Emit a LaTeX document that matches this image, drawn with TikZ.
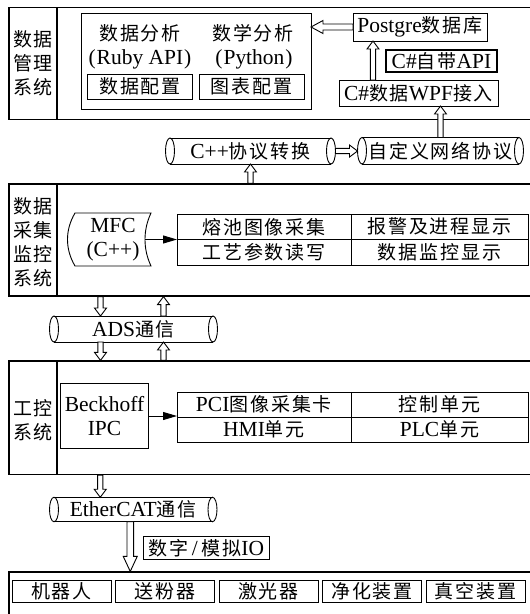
\documentclass[tikz,border=0pt]{standalone}
\usepackage{fontspec}
\setmainfont{Liberation Serif}[Scale=1.13]
\newfontfamily\cjk[LetterSpace=10]{Noto Sans CJK SC}
\newcommand{\zh}[1]{{\cjk #1}}
\usetikzlibrary{calc,positioning,arrows.meta}

\tikzset{
  box/.style={draw, line width=0.9pt, inner sep=1pt, outer sep=0pt},
  sect/.style={draw, line width=1.2pt, inner sep=0pt, minimum width=536pt},
  cell/.style={box, minimum height=25.5pt},
  devbox/.style={box, minimum width=99pt, minimum height=22pt},
  pipe/.style={inner sep=0pt, outer sep=0pt},
  solidarr/.style={-{Triangle[length=14pt,width=8pt]}, line width=0.9pt},
  tipw/.store in=\tipw, tipl/.store in=\tipl, shaftw/.store in=\shaftw,
  tipw=6pt, tipl=8pt, shaftw=2.6pt,
  hollow/.style={draw, line width=0.9pt, fill=white, to path={
    ($(\tikztostart)!\shaftw!90:(\tikztotarget)$)
    -- ($($(\tikztotarget)!\tipl!(\tikztostart)$)!\shaftw!90:(\tikztotarget)$)
    -- ($($(\tikztotarget)!\tipl!(\tikztostart)$)!\tipw!90:(\tikztotarget)$)
    -- (\tikztotarget)
    -- ($($(\tikztotarget)!\tipl!(\tikztostart)$)!\tipw!-90:(\tikztotarget)$)
    -- ($($(\tikztotarget)!\tipl!(\tikztostart)$)!\shaftw!-90:(\tikztotarget)$)
    -- ($(\tikztostart)!\shaftw!-90:(\tikztotarget)$)
    -- cycle \tikztonodes}}
}

\begin{document}
\begin{tikzpicture}[x=1pt,y=-1pt,font=\fontsize{19}{24}\selectfont]
\useasboundingbox (0,0) rectangle (530,614);
\clip (0,0) rectangle (530,614);

\node[sect, minimum height=112pt] (mgmt) at (277,63.5) {};
\node[sect, minimum height=112pt] (acq) at (277,240) {};
\node[sect, minimum height=113.5pt] (ctrl) at (277,417.75) {};
\node[sect, minimum height=68pt] (dev) at (277,606) {};
\draw[line width=1.2pt] (57,7.5) -- (57,119.5) (57,184) -- (57,296) (57,361) -- (57,474.5);
\node[align=center] (mgmtlbl) at (33,63.5) {\zh{数据}\\\zh{管理}\\\zh{系统}};
\node[align=center] (acqlbl) at (33,242) {\zh{数据}\\\zh{采集}\\\zh{监控}\\\zh{系统}};
\node[align=center] (ctrllbl) at (33,420) {\zh{工控}\\\zh{系统}};

\node[box, minimum width=230pt, minimum height=96pt] (ana) at (196,61) {};
\node (rubyhd) at (140,33) {\zh{数据分析}};
\node (pyhd) at (253,33) {\zh{数学分析}};
\node (ruby) at (140,59) {(\kern1pt Ruby API\kern1pt)};
\node (py) at (254,59) {(\kern1pt Python\kern1pt)};
\node[box, minimum width=105pt, minimum height=25pt] (dcfg) at (140,86.5) {\zh{数据配置}};
\node[box, minimum width=105pt, minimum height=25pt] (ccfg) at (251.5,86.5) {\zh{图表配置}};
\node[box, minimum width=134pt, minimum height=28pt] (pg) at (420,27) {Postgre\zh{数据库}};
\node[box, line width=1.6pt, minimum width=111pt, minimum height=22pt] (capi) at (441.5,61) {C\#\zh{自带}API};
\node[box, minimum width=159pt, minimum height=26pt] (wpf) at (418.5,93) {C\#\zh{数据}WPF\zh{接入}};

\node[pipe, minimum width=161pt, minimum height=26pt] (cpp) at (250.5,151) {C++\zh{协议转换}};
\node[pipe, minimum width=157pt, minimum height=26.5pt] (net) at (440.5,150.75) {\zh{自定义网络协议}};
\node[pipe, minimum width=159pt, minimum height=26pt] (ads) at (133.5,329) {ADS\zh{通信}};
\node[pipe, minimum width=158.5pt, minimum height=24.5pt] (ecat) at (133.25,509.5) {EtherCAT\zh{通信}};
\foreach \p/\r in {cpp/13pt,net/13.25pt,ads/13pt,ecat/12.25pt}{
  \draw[line width=0.9pt] (\p.north west) -- (\p.north east) (\p.south west) -- (\p.south east);
  \draw[line width=0.9pt] (\p.west) ellipse [x radius=4.5pt, y radius=\r] (\p.east) ellipse [x radius=4.5pt, y radius=\r];
}

\node[pipe, align=center, minimum width=76pt, minimum height=53pt] (mfc) at (113,239.5) {MFC\\(C++)};
\draw[line width=0.9pt] (mfc.north west) -- (mfc.north east)
  .. controls +(-8pt,-17pt) and +(-8pt,17pt) .. (mfc.south east) -- (mfc.south west)
  .. controls +(-10pt,17pt) and +(-10pt,-17pt) .. (mfc.north west) -- cycle;
\node[cell, minimum width=174pt] (t2a) at (264,226.75) {\zh{熔池图像采集}};
\node[cell, minimum width=177pt, right=0pt of t2a] (t2b) {\zh{报警及进程显示}};
\node[cell, minimum width=174pt, below=0pt of t2a] (t2c) {\zh{工艺参数读写}};
\node[cell, minimum width=177pt, below=0pt of t2b] (t2d) {\zh{数据监控显示}};

\node[box, align=center, minimum width=88pt, minimum height=65pt] (ipc) at (104.5,416) {Beckhoff\\IPC};
\node[cell, minimum width=174pt, minimum height=25pt] (t3a) at (264,404.5) {PCI\zh{图像采集卡}};
\node[cell, minimum width=177pt, minimum height=25pt, right=0pt of t3a] (t3b) {\zh{控制单元}};
\node[cell, minimum width=174pt, minimum height=25pt, below=0pt of t3a] (t3c) {HMI\zh{单元}};
\node[cell, minimum width=177pt, minimum height=25pt, below=0pt of t3b] (t3d) {PLC\zh{单元}};

\node[box, minimum width=126pt, minimum height=22.6pt] (io) at (206.3,548) {\zh{数字}\,/\,\zh{模拟}IO};
\node[devbox] (robot) at (61.5,591) {\zh{机器人}};
\node[devbox, right=4.5pt of robot] (feeder) {\zh{送粉器}};
\node[devbox, right=4.5pt of feeder] (laser) {\zh{激光器}};
\node[devbox, right=4.5pt of laser] (purge) {\zh{净化装置}};
\node[devbox, right=4.5pt of purge] (vac) {\zh{真空装置}};

\draw[hollow, tipl=12pt, tipw=6.5pt, shaftw=3pt] (pg.west) to (pg.west -| ana.east);
\draw[hollow] ([xshift=34pt]wpf.north west) to ([xshift=34pt]wpf.north west |- pg.south);
\draw[hollow] (net.north) to (net.north |- wpf.south);
\draw[hollow] ([xshift=4.5pt]cpp.east) to ([xshift=-4.5pt]cpp.east -| net.west);
\draw[hollow] (cpp.south |- acq.north) to (cpp.south);
\draw[hollow] ([xshift=-33pt]ads.north |- acq.south) to ([xshift=-33pt]ads.north);
\draw[hollow] ([xshift=30pt]ads.north) to ([xshift=30pt]ads.north |- acq.south);
\draw[hollow] ([xshift=-33pt]ads.south) to ([xshift=-33pt]ads.south |- ctrl.north);
\draw[hollow] ([xshift=30pt]ads.south |- ctrl.north) to ([xshift=30pt]ads.south);
\draw[hollow] ([xshift=-33pt]ecat.north |- ctrl.south) to ([xshift=-33pt]ecat.north);
\draw[hollow, tipl=15pt, tipw=7pt, shaftw=3.3pt] ([xshift=-3pt]ecat.south) to ([xshift=-3pt]ecat.south |- dev.north);

\draw[solidarr] ([xshift=-6pt]mfc.east) -- (mfc.east -| t2a.west);
\draw[solidarr] (ipc.east) -- (ipc.east -| t3a.west);
\end{tikzpicture}
\end{document}
